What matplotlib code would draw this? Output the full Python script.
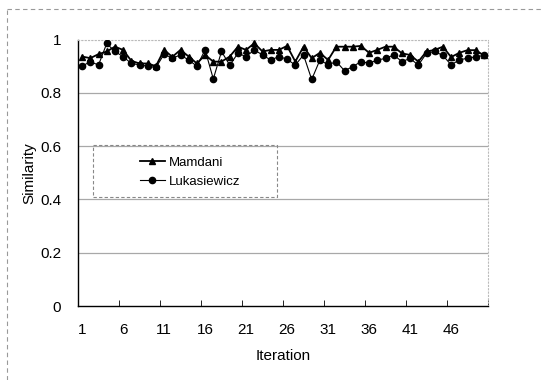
import matplotlib
matplotlib.use("Agg")
import matplotlib.pyplot as plt
from matplotlib.lines import Line2D
from matplotlib.patches import Rectangle

plt.rcParams['font.family'] = ['Liberation Sans', 'DejaVu Sans']

# iterations 1..50
iterations = list(range(1, 51))

mamdani = [0.936, 0.930, 0.945, 0.955, 0.973, 0.961, 0.920, 0.910, 0.910, 0.900,
           0.961, 0.935, 0.961, 0.936, 0.910, 0.942, 0.917, 0.917, 0.936, 0.973,
           0.961, 0.986, 0.955, 0.961, 0.961, 0.976, 0.917, 0.973, 0.930, 0.950,
           0.923, 0.973, 0.973, 0.973, 0.976, 0.950, 0.961, 0.973, 0.973, 0.948,
           0.942, 0.917, 0.955, 0.961, 0.973, 0.934, 0.950, 0.960, 0.960, 0.940]

lukasiewicz = [0.900, 0.917, 0.904, 0.985, 0.955, 0.936, 0.910, 0.905, 0.900, 0.895,
               0.945, 0.930, 0.942, 0.923, 0.900, 0.961, 0.852, 0.955, 0.904, 0.948,
               0.936, 0.961, 0.942, 0.923, 0.936, 0.926, 0.904, 0.942, 0.850, 0.923,
               0.905, 0.917, 0.883, 0.898, 0.917, 0.911, 0.923, 0.929, 0.942, 0.917,
               0.929, 0.904, 0.948, 0.955, 0.940, 0.905, 0.923, 0.930, 0.935, 0.940]

label_every = 5
yticks = [0, 0.2, 0.4, 0.6, 0.8, 1]
ytick_labels = ['0', '0.2', '0.4', '0.6', '0.8', '1']

W, H = 542, 380
fig = plt.figure(figsize=(W / 100, H / 100), dpi=100)
ax = fig.add_axes([78 / W, (H - 306) / H, 410 / W, 266.5 / H])

pos = list(range(len(iterations)))

# grid lines like the old spreadsheet chart
for v in yticks[1:-1]:
    ax.axhline(v, color='#a8a8a8', lw=0.9, zorder=1)
ax.axhline(1.0, color='#bbbbbb', lw=0.8, ls=(0, (1, 2)), zorder=1)

ax.plot(pos, mamdani, color='black', lw=1.3, marker='^', ms=5,
        label='Mamdani', zorder=3)
ax.plot(pos, lukasiewicz, color='black', lw=0.8, marker='o', ms=4.5,
        label='Lukasiewicz', zorder=3)

ax.set_xlim(-0.5, len(iterations) - 0.5)
ax.set_ylim(0, 1)

ax.set_xticks(pos[::label_every])
ax.set_xticklabels([str(i) for i in iterations[::label_every]])
ax.set_xticks([p - 0.5 for p in pos[::label_every]] + [len(iterations) - 0.5], minor=True)
ax.tick_params(axis='x', which='major', length=0, pad=12, labelsize=11)
ax.tick_params(axis='x', which='minor', direction='in', length=4)
ax.set_yticks(yticks)
ax.set_yticklabels(ytick_labels)
ax.tick_params(axis='y', length=0, pad=12, labelsize=11)

for s in ['top', 'right']:
    ax.spines[s].set_color('#bbbbbb')
    ax.spines[s].set_linestyle((0, (1, 2)))
    ax.spines[s].set_linewidth(0.8)
for s in ['left', 'bottom']:
    ax.spines[s].set_linewidth(1.0)

ax.set_xlabel('Iteration', fontsize=11, labelpad=9)
ax.set_ylabel('Similarity', fontsize=11, labelpad=3)

# legend box
ax.add_patch(Rectangle(((93 - 78) / 410, (306 - 197) / 266.5), 184 / 410, 52 / 266.5,
                       transform=ax.transAxes, fill=False, ec='#888888', lw=0.8,
                       ls=(0, (3, 2)), zorder=4))
ax.legend(loc='center', bbox_to_anchor=((190 - 78) / 410, (306 - 172) / 266.5),
          frameon=False, fontsize=9.5, handlelength=1.9, handletextpad=0.3,
          labelspacing=0.5, borderpad=0)

# outer frame of the scanned figure
fig.add_artist(Line2D([7 / W, 7 / W], [0, 1 - 9 / H], transform=fig.transFigure,
                      color='#999999', lw=0.8, ls=(0, (4, 3))))
fig.add_artist(Line2D([7 / W, 1], [1 - 9 / H, 1 - 9 / H], transform=fig.transFigure,
                      color='#999999', lw=0.8, ls=(0, (4, 3))))

fig.savefig('out.png', dpi=100)
